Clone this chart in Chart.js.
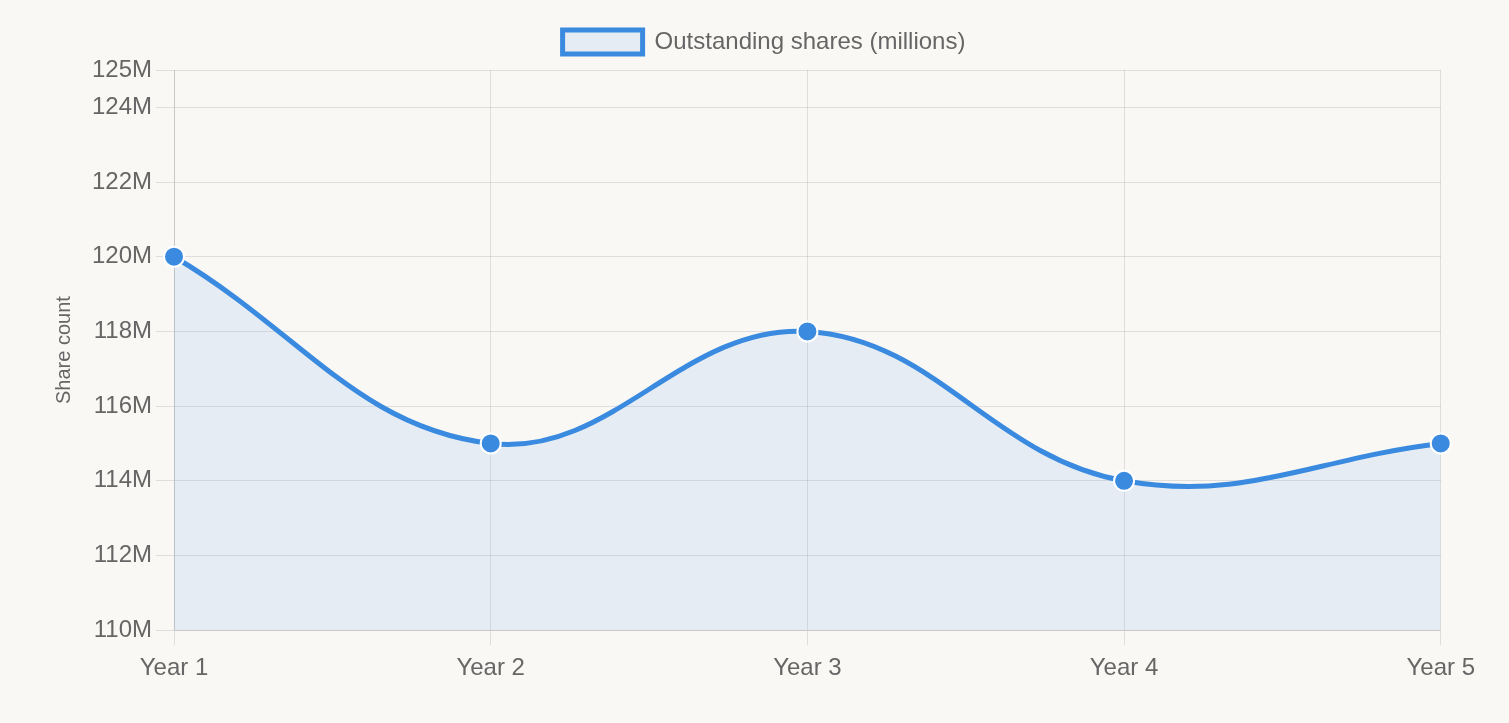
<!DOCTYPE html>
<html>
<head>
<meta charset="utf-8">
<script src="https://cdn.jsdelivr.net/npm/chart.js@4/dist/chart.umd.min.js"></script>
<style>
  html, body { margin: 0; padding: 0; background: #f9f8f5; }
  #wrap { width: 1509px; height: 723px; box-sizing: border-box; padding: 12px 25px 31px 44px; }
</style>
</head>
<body>
<div id="wrap"><canvas id="myChart"></canvas></div>
<script>
const years = ['Year 1', 'Year 2', 'Year 3', 'Year 4', 'Year 5'];
const shares = [120, 115, 118, 114, 115]; // millions
const yMin = 110;
const yMax = 125;

Chart.defaults.font.family = '"Liberation Sans", Arial, Helvetica, sans-serif';
Chart.defaults.font.size = 24;
Chart.defaults.color = '#666';

// a bit more room under the legend
const legendGap = {
    id: 'legendGap',
    beforeInit(chart) {
        const origFit = chart.legend.fit;
        chart.legend.fit = function () {
            origFit.bind(chart.legend)();
            this.height += 6;
        };
    }
};

const ctx = document.getElementById('myChart').getContext('2d');
new Chart(ctx, {
    type: 'line',
    data: {
        labels: years,
        datasets: [{
            label: 'Outstanding shares (millions)',
            data: shares,
            borderColor: '#3a8ae0',
            backgroundColor: 'rgba(58, 138, 224, 0.1)',
            borderWidth: 5,
            fill: true,
            tension: 0.4,
            pointRadius: 10,
            pointBackgroundColor: '#3a8ae0',
            pointBorderColor: '#fff',
            pointBorderWidth: 2
        }]
    },
    options: {
        responsive: true,
        maintainAspectRatio: false,
        animation: false,
        plugins: {
            legend: {
                position: 'top',
                labels: { boxWidth: 80, boxHeight: 24, padding: 18 }
            }
        },
        scales: {
            x: {
                grid: { color: 'rgba(0,0,0,0.1)', tickLength: 15 },
                ticks: { padding: 9 }
            },
            y: {
                min: yMin,
                max: yMax,
                ticks: {
                    stepSize: 2,
                    padding: 4,
                    callback: v => v + 'M'
                },
                grid: { color: 'rgba(0,0,0,0.1)', tickLength: 18 },
                title: { display: true, text: 'Share count', font: { size: 20 }, padding: { top: 8, bottom: 12 } }
            }
        }
    },
    plugins: [legendGap]
});
</script>
</body>
</html>
